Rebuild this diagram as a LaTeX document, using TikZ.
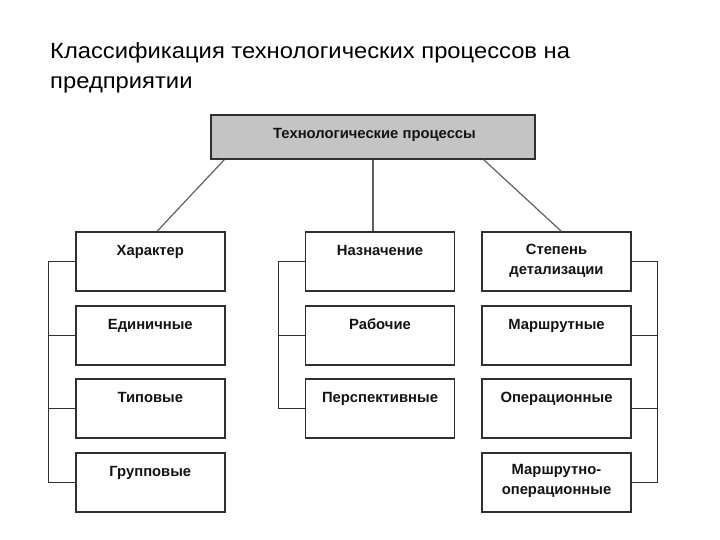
\documentclass[tikz,border=0pt]{standalone}
\usepackage{fontspec}
\setmainfont{Liberation Sans}
\usetikzlibrary{calc}
\definecolor{boxline}{HTML}{303030}
\definecolor{conline}{HTML}{606060}
\definecolor{topfill}{HTML}{C4C4C4}
\tikzset{
  box/.style={draw=boxline, line width=1.4pt, fill=white, minimum width=149pt, minimum height=59pt, inner sep=0pt},
  topbox/.style={draw=boxline, line width=1.4pt, fill=topfill, minimum width=324pt, minimum height=44pt, inner sep=0pt},
  lbl/.style={anchor=base, inner sep=0pt, font=\fontsize{14.8}{20}\selectfont\bfseries, text=black!92},
  conn/.style={draw=conline, line width=1.2pt},
  brk/.style={draw=boxline, line width=1.2pt}
}
\newcommand{\twol}[2]{\begin{tabular}[t]{@{}c@{}}#1\\#2\end{tabular}}
\begin{document}
\begin{tikzpicture}[x=1pt,y=-1pt]
\useasboundingbox (0,0) rectangle (720,540);
% title
\node[anchor=base west, inner sep=0pt, font=\fontsize{22}{30}\selectfont] (title) at (50,59)
  {\scalebox{1.08}[1]{\begin{tabular}[t]{@{}l@{}}Классификация технологических процессов на\\предприятии\end{tabular}}};
% top box
\node[topbox] (top) at (373,137) {};
\node[lbl] (toptxt) at (374.5,138.5) {Технологические процессы};
% left column
\node[box] (c1) at (150.3,261.5) {};
\node[box] (c2) at (150.3,335.5) {};
\node[box] (c3) at (150.3,408.5) {};
\node[box] (c4) at (150.3,482.5) {};
% middle column
\node[box] (m1) at (380,261.5) {};
\node[box] (m2) at (380,335.5) {};
\node[box] (m3) at (380,408.5) {};
% right column
\node[box] (r1) at (556.5,261.5) {};
\node[box] (r2) at (556.5,335.5) {};
\node[box] (r3) at (556.5,408.5) {};
\node[box] (r4) at (556.5,482.5) {};
% labels
\node[lbl] (c1t) at ($(c1.north)+(0,24)$) {Характер};
\node[lbl] (c2t) at ($(c2.north)+(0,24)$) {Единичные};
\node[lbl] (c3t) at ($(c3.north)+(0,24)$) {Типовые};
\node[lbl] (c4t) at ($(c4.north)+(0,24)$) {Групповые};
\node[lbl] (m1t) at ($(m1.north)+(0,24)$) {Назначение};
\node[lbl] (m2t) at ($(m2.north)+(0,24)$) {Рабочие};
\node[lbl] (m3t) at ($(m3.north)+(0,24)$) {Перспективные};
\node[lbl] (r1t) at ($(r1.north)+(0,23)$) {\twol{Степень}{детализации}};
\node[lbl] (r2t) at ($(r2.north)+(0,24)$) {Маршрутные};
\node[lbl] (r3t) at ($(r3.north)+(0,24)$) {Операционные};
\node[lbl] (r4t) at ($(r4.north)+(0,22)$) {\twol{Маршрутно-}{операционные}};
% connectors from top
\draw[conn] ($(top.south west)+(14,0)$) -- ($(c1.north west)+(82,0)$);
\draw[conn] (top.south) -- (top.south |- m1.north);
\draw[conn] ($(top.south east)+(-52,0)$) -- ($(r1.north west)+(80,0)$);
% brackets
\draw[brk] (c1.west) -- ++(-26.7,0) |- (c4.west);
\draw[brk] (c2.west) -- ++(-26.7,0);
\draw[brk] (c3.west) -- ++(-26.7,0);
\draw[brk] (m1.west) -- ++(-26.7,0) |- (m3.west);
\draw[brk] (m2.west) -- ++(-26.7,0);
\draw[brk] (r1.east) -- ++(26,0) |- (r4.east);
\draw[brk] (r2.east) -- ++(26,0);
\draw[brk] (r3.east) -- ++(26,0);
\end{tikzpicture}
\end{document}
